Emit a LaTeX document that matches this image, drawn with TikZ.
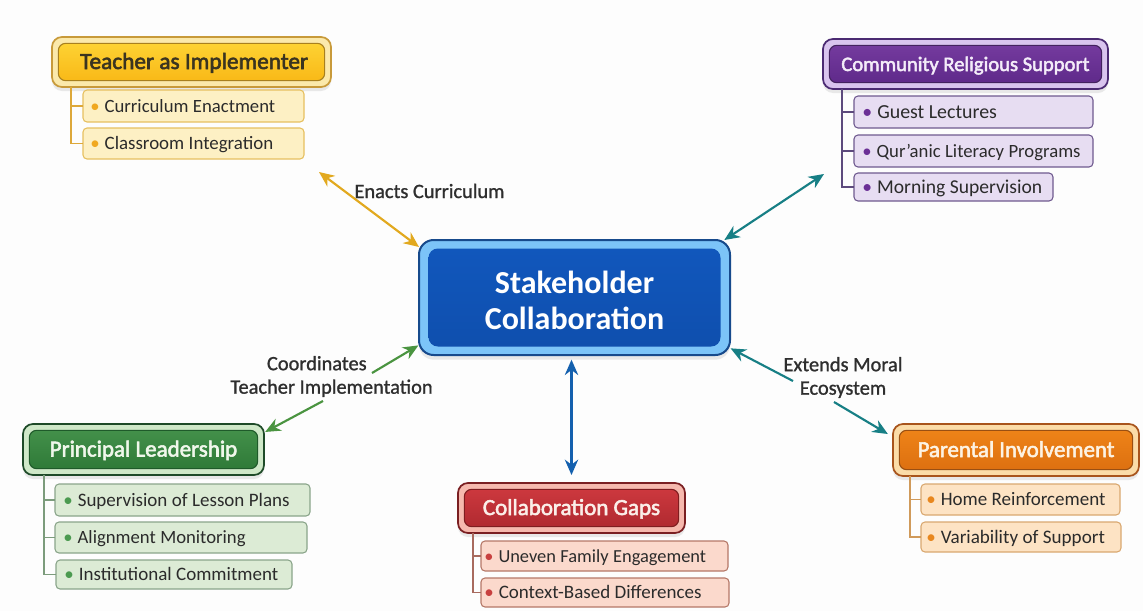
\documentclass[tikz,border=0pt]{standalone}
\usepackage{fontspec}
\setmainfont{Carlito}
\newfontfamily\semifont[FakeBold=2.4]{Carlito}
\newfontfamily\lightbold[FakeBold=1.1]{Carlito}
\usetikzlibrary{shadows,arrows.meta}
\definecolor{goldEdge}{HTML}{C89A3A}\definecolor{goldBand}{HTML}{FBE9AB}\definecolor{goldTop}{HTML}{FDD233}\definecolor{goldBot}{HTML}{F9B917}\definecolor{goldIn}{HTML}{A8801E}\definecolor{goldTxt}{HTML}{3A3420}\definecolor{goldSub}{HTML}{FDF0C4}\definecolor{goldSubE}{HTML}{E6C060}\definecolor{goldDot}{HTML}{F0A820}\definecolor{goldTr}{HTML}{DDA83A}
\definecolor{purpEdge}{HTML}{4B2A72}\definecolor{purpBand}{HTML}{D9C4EE}\definecolor{purpTop}{HTML}{743A9E}\definecolor{purpBot}{HTML}{5F2A8A}\definecolor{purpIn}{HTML}{43225F}\definecolor{purpTxt}{HTML}{F4ECF9}\definecolor{purpSub}{HTML}{E7DDF2}\definecolor{purpSubE}{HTML}{6F5A8F}\definecolor{purpDot}{HTML}{6B2F96}\definecolor{purpTr}{HTML}{5D4A7D}
\definecolor{grnEdge}{HTML}{1E4A28}\definecolor{grnBand}{HTML}{CFE8C8}\definecolor{grnTop}{HTML}{43904A}\definecolor{grnBot}{HTML}{2F7A38}\definecolor{grnIn}{HTML}{1F5A2A}\definecolor{grnTxt}{HTML}{F0F7EB}\definecolor{grnSub}{HTML}{DCEBD5}\definecolor{grnSubE}{HTML}{8AA58A}\definecolor{grnDot}{HTML}{4B9A50}\definecolor{grnTr}{HTML}{7C9C7C}
\definecolor{redEdge}{HTML}{7A1F22}\definecolor{redBand}{HTML}{F6B9AE}\definecolor{redTop}{HTML}{CC383E}\definecolor{redBot}{HTML}{B02A30}\definecolor{redIn}{HTML}{7F1D20}\definecolor{redTxt}{HTML}{FBEFE9}\definecolor{redSub}{HTML}{FBD9CC}\definecolor{redSubE}{HTML}{B57868}\definecolor{redDot}{HTML}{C8403F}\definecolor{redTr}{HTML}{A86A5E}
\definecolor{orgEdge}{HTML}{A8541C}\definecolor{orgBand}{HTML}{FBDCA8}\definecolor{orgTop}{HTML}{EE8318}\definecolor{orgBot}{HTML}{DD7010}\definecolor{orgIn}{HTML}{9A4F12}\definecolor{orgTxt}{HTML}{FDF3E4}\definecolor{orgSub}{HTML}{FDE3C4}\definecolor{orgSubE}{HTML}{D9A870}\definecolor{orgDot}{HTML}{E8871E}\definecolor{orgTr}{HTML}{D09A5A}
\definecolor{page}{HTML}{FDFDFD}
\definecolor{inkdark}{HTML}{2B2B2B}
\definecolor{hubEdge}{HTML}{174A8C}\definecolor{hubBand}{HTML}{7CC4F8}\definecolor{hubTop}{HTML}{1157BC}\definecolor{hubBot}{HTML}{0F4FAE}
\definecolor{arrGold}{HTML}{E2A91F}\definecolor{arrTeal}{HTML}{177F85}\definecolor{arrGreen}{HTML}{4A9440}\definecolor{arrBlue}{HTML}{1460AE}
\tikzset{
  x=0.75pt,y=-0.75pt,
  boxbase/.style={rectangle,inner sep=0pt,outer sep=0pt},
  headouter/.style={boxbase,rounded corners=7.5pt,line width=1.3pt,draw=#1Edge,fill=#1Band,
     drop shadow={opacity=.16,shadow xshift=0pt,shadow yshift=-3pt}},
  headinner/.style={boxbase,rounded corners=5.5pt,line width=.8pt,draw=#1In,top color=#1Top,bottom color=#1Bot,text=#1Txt,text height=11pt,text depth=.5pt},
  itembox/.style={boxbase,rounded corners=3pt,line width=.8pt,draw=#1SubE,fill=#1Sub,text=inkdark,align=left,text height=10pt,text depth=.8pt},
  tree/.style={line width=.9pt,draw=#1Tr},
  linkline/.style={line width=1.6pt,draw=#1},
  tiptwo/.style={{Stealth[length=11.5pt,width=10pt]}-{Stealth[length=11.5pt,width=10pt]}},
  tipone/.style={{Stealth[length=11.5pt,width=10pt]}-},
  linklabel/.style={boxbase,font=\lightbold\fontsize{15.3pt}{17.6pt}\selectfont,text=black!82,align=center},
}
\newcommand{\headbox}[8]{%
  \pgfmathsetmacro{\mycx}{(#2+#4)/2}\pgfmathsetmacro{\mycy}{(#3+#5)/2}%
  \pgfmathsetmacro{\myw}{(#4-#2)*.75}\pgfmathsetmacro{\myh}{(#5-#3)*.75}%
  \pgfmathsetmacro{\myfs}{#7*.75}%
  \node[headouter=#6,minimum width=\myw pt,minimum height=\myh pt] (#1) at (\mycx,\mycy) {};
  \node[headinner=#6,minimum width=\myw pt-9.5pt,minimum height=\myh pt-9.5pt] (#1in) at (\mycx,\mycy)
     {\semifont\fontsize{\myfs pt}{\myfs pt}\selectfont #8};
}
\newcommand{\itemrow}[9][-.75pt]{%
  \pgfmathsetmacro{\mycx}{(#3+#5)/2}\pgfmathsetmacro{\mycy}{(#4+#6)/2}%
  \pgfmathsetmacro{\myw}{(#5-#3)*.75}\pgfmathsetmacro{\myh}{(#6-#4)*.75}%
  \pgfmathsetmacro{\myfs}{#8*.75}%
  \node[itembox=#7,minimum width=\myw pt,minimum height=\myh pt,text width=\myw pt-14pt] (#2) at (\mycx,\mycy)
     {\fontsize{\myfs pt}{\myfs pt}\selectfont\hspace*{#1}\textcolor{#7Dot}{\textbullet}\hspace{3.75pt}#9};
}
\begin{document}
\begin{tikzpicture}
\useasboundingbox[fill=page] (0,0) rectangle (1143,611);

\coordinate (tT) at (71,87);
\coordinate (tC) at (842,89);
\coordinate (tP) at (44,475);
\coordinate (tG) at (473,533);
\coordinate (tH) at (910,476);

\headbox{teacher}{52}{37}{331}{87}{gold}{23.3}{\hspace*{4pt}Teacher as Implementer}
\headbox{community}{823}{39}{1108}{89}{purp}{20.6}{Community Religious Support}
\headbox{principal}{23}{424}{264}{475}{grn}{23}{Principal Leadership}
\headbox{gaps}{458}{483}{685}{533}{red}{23}{Collaboration Gaps}
\headbox{parental}{893}{424}{1139}{476}{org}{22.8}{Parental Involvement}

\itemrow[-1.5pt]{cur}{83}{90}{304}{122}{gold}{18.7}{Curriculum Enactment}
\itemrow[-1.5pt]{cla}{83}{128}{304}{159}{gold}{18.9}{Classroom Integration}
\itemrow{gue}{854}{96}{1093}{128}{purp}{19.9}{Guest Lectures}
\itemrow{qur}{854}{135}{1093}{167}{purp}{18.7}{Qur’anic Literacy Programs}
\itemrow{mor}{854}{173}{1053}{201}{purp}{19.6}{Morning Supervision}
\itemrow{sup}{55}{484}{310}{516}{grn}{19}{Supervision of Lesson Plans}
\itemrow{ali}{55}{522}{307}{553}{grn}{18.7}{Alignment Monitoring}
\itemrow{ins}{56}{560}{292}{589}{grn}{19}{Institutional Commitment}
\itemrow[-4.5pt]{une}{481}{541}{728}{571}{red}{18.4}{Uneven Family Engagement}
\itemrow[-4.5pt]{con}{481}{578}{729}{607}{red}{19}{Context-Based Differences}
\itemrow[-3pt]{hom}{921}{484}{1120}{515}{org}{19}{Home Reinforcement}
\itemrow[-3pt]{var}{921}{522}{1121}{552}{org}{19.1}{Variability of Support}

\draw[tree=gold] (tT) |- (cur.west);
\draw[tree=gold] (tT) |- (cla.west);
\draw[tree=purp] (tC) |- (gue.west);
\draw[tree=purp] (tC) |- (qur.west);
\draw[tree=purp] (tC) |- (mor.west);
\draw[tree=grn] (tP) |- (sup.west);
\draw[tree=grn] (tP) |- (ali.west);
\draw[tree=grn] (tP) |- (ins.west);
\draw[tree=red] (tG) |- (une.west);
\draw[tree=red] (tG) |- (con.west);
\draw[tree=org] (tH) |- (hom.west);
\draw[tree=org] (tH) |- (var.west);

\node[boxbase,rounded corners=11pt,line width=1.5pt,draw=hubEdge,fill=hubBand,minimum width=233.25pt,minimum height=86.25pt,
      drop shadow={opacity=.16,shadow xshift=0pt,shadow yshift=-3.5pt}] (hub) at (574.5,297.5) {};
\node[boxbase,rounded corners=7pt,top color=hubTop,bottom color=hubBot,minimum width=219pt,minimum height=73.5pt] (hubin) at (574.5,297.5) {};
\node[boxbase,text=white,align=center,font=\bfseries\fontsize{24pt}{27pt}\selectfont] (hubtext) at (574.5,300.5) {Stakeholder\\Collaboration};

\coordinate (endT) at (319,172);
\coordinate (endC) at (824,174);
\coordinate (gapGa) at (372,373);
\coordinate (gapGb) at (323,401);
\coordinate (gapTa) at (793,381);
\coordinate (gapTb) at (834,402);

\draw[linkline=arrGold,tiptwo] (hub.162) -- (endT);
\draw[linkline=arrTeal,tiptwo] (hub.21) -- (endC);
\draw[linkline=arrGreen,tipone,shorten <=.5pt] (hub.197.9) -- (gapGa);
\draw[linkline=arrGreen,tipone,shorten <=1pt] (principal.8.3) -- (gapGb);
\draw[linkline=arrBlue,tiptwo,shorten <=3.5pt,shorten >=6pt] (hub.south -| gaps.north) -- (gaps.north);
\draw[linkline=arrTeal,tipone,shorten <=.5pt] (hub.-18.2) -- (gapTa);
\draw[linkline=arrTeal,tipone,shorten <=4.5pt] (parental.174) -- (gapTb);

\node[linklabel] (lab1) at (429.5,191) {Enacts Curriculum};
\node[linklabel] (lab2) at (331.5,376.5) {Coordinates\hspace*{22pt}\\Teacher Implementation};
\node[linklabel] (lab3) at (843,377.5) {Extends Moral\\Ecosystem};
\end{tikzpicture}
\end{document}
